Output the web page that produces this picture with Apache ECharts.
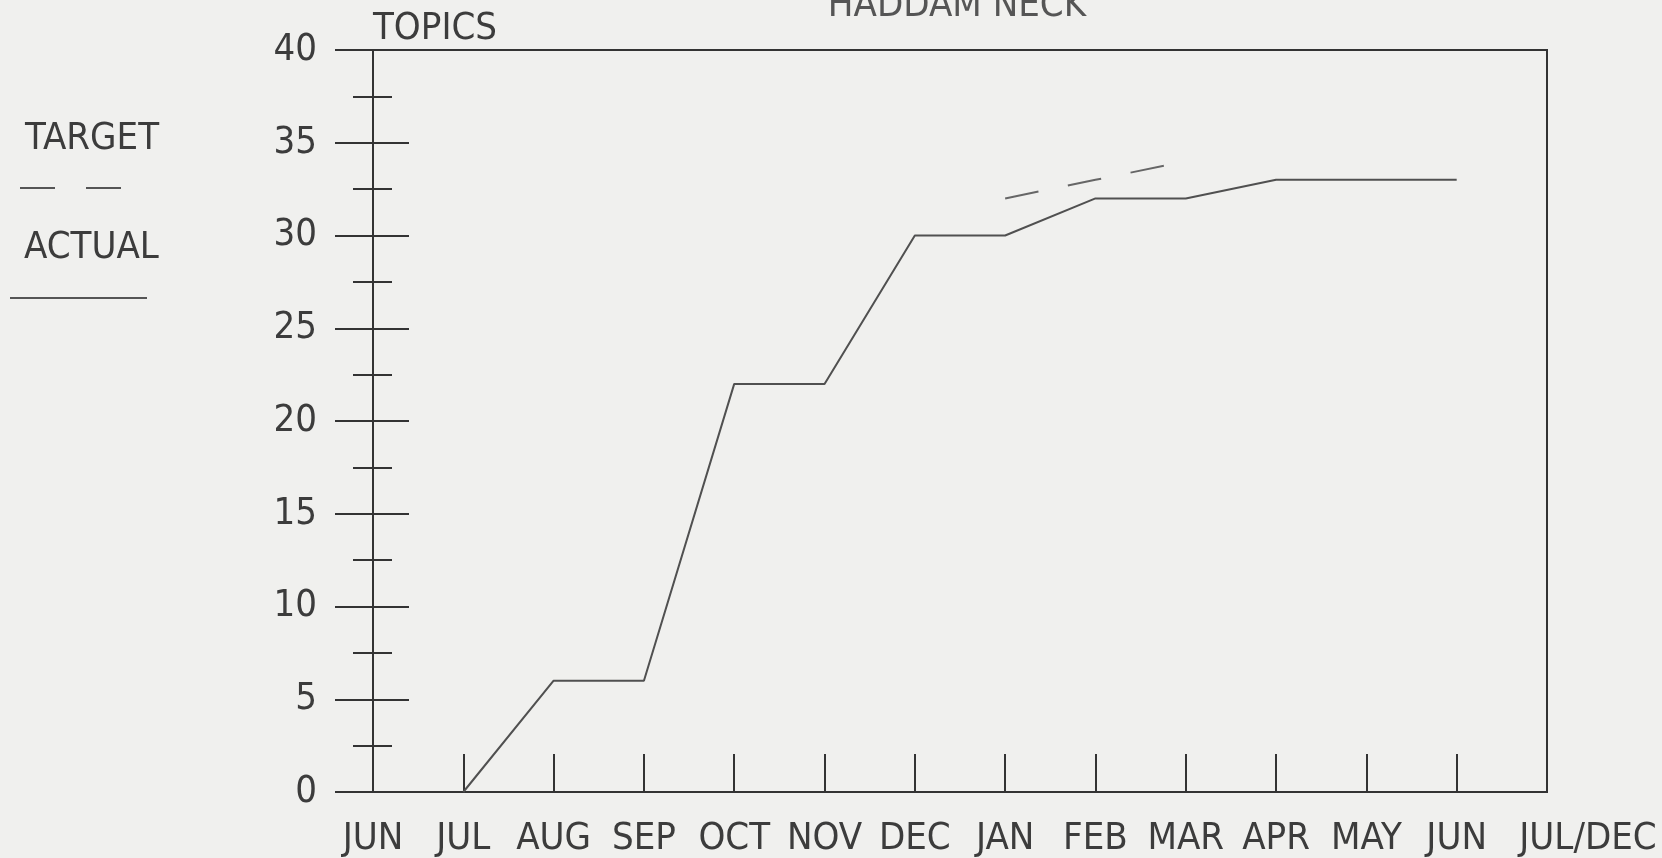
<!DOCTYPE html>
<html>
<head>
<meta charset="utf-8">
<script src="https://cdn.jsdelivr.net/npm/echarts@6/dist/echarts.min.js"></script>
<style>
    html, body { margin: 0; padding: 0; background: #f0f0ee; }
    #chart1 { width: 1662px; height: 858px; }
</style>
</head>
<body>
<div id="chart1"></div>
<script>
var months = ['JUN', 'JUL', 'AUG', 'SEP', 'OCT', 'NOV', 'DEC', 'JAN', 'FEB', 'MAR', 'APR', 'MAY', 'JUN', 'JUL/DEC'];
var actualData = [null, 0, 6, 6, 22, 22, 30, 30, 32, 32, 33, 33, 33, null];
var targetData = [null, null, null, null, null, null, null, 32, 33, 34, null, null, null, null];
var yTicks = [0, 5, 10, 15, 20, 25, 30, 35, 40];

var font = "'Liberation Sans Narrow', 'DejaVu Sans Condensed', 'Liberation Sans', sans-serif";
var ink = '#3c3c3c';
var chart1 = echarts.init(document.getElementById('chart1'));

var option = {
    animation: false,
    backgroundColor: '#f0f0ee',
    title: {
        text: 'HADDAM NECK',
        left: 957,
        top: -13,
        padding: 0,
        textAlign: 'center',
        textStyle: { fontFamily: font, fontSize: 38, fontWeight: 'normal', color: '#555' }
    },
    grid: {
        left: 373, right: 115, top: 50, bottom: 66,
        show: true, borderColor: '#333', borderWidth: 2, backgroundColor: 'transparent'
    },
    xAxis: {
        type: 'category',
        data: months,
        boundaryGap: false,
        axisLine: { lineStyle: { color: '#333', width: 2 } },
        axisTick: { inside: true, length: 38, interval: 0, lineStyle: { color: '#333', width: 2 } },
        axisLabel: {
            interval: 0, margin: 28, color: ink, fontFamily: font, fontSize: 38,
            formatter: function (v) {
                // last label sits to the right of the border
                return v === 'JUL/DEC' ? '{s|' + v + '}' : v;
            },
            rich: { s: { padding: [0, 0, 0, 82], fontFamily: font, fontSize: 38, color: ink } }
        },
        splitLine: { show: false }
    },
    yAxis: [{
        type: 'value',
        min: yTicks[0], max: yTicks[yTicks.length - 1], interval: 5,
        name: 'TOPICS',
        nameLocation: 'end',
        nameGap: 2,
        nameTextStyle: { align: 'left', verticalAlign: 'bottom', fontFamily: font, fontSize: 38, color: ink },
        axisLine: { show: true, lineStyle: { color: '#333', width: 2 } },
        axisTick: { show: true, inside: false, length: 38, lineStyle: { color: '#333', width: 2 } },
        minorTick: { show: true, splitNumber: 2, length: 20, lineStyle: { color: '#333', width: 2 } },
        axisLabel: { margin: 56, color: ink, fontFamily: font, fontSize: 38 },
        splitLine: { show: false },
        minorSplitLine: { show: false }
    }, {
        // second axis only to draw the tick halves on the inside
        type: 'value',
        position: 'left',
        min: yTicks[0], max: yTicks[yTicks.length - 1], interval: 5,
        axisLine: { show: false },
        axisTick: { show: true, inside: true, length: 36, lineStyle: { color: '#333', width: 2 } },
        minorTick: { show: true, splitNumber: 2, length: 19, lineStyle: { color: '#333', width: 2 } },
        axisLabel: { show: false },
        splitLine: { show: false },
        minorSplitLine: { show: false }
    }],
    series: [{
        name: 'ACTUAL',
        type: 'line',
        data: actualData,
        showSymbol: false,
        symbol: 'none',
        lineStyle: { color: '#505050', width: 2 }
    }, {
        name: 'TARGET',
        type: 'line',
        data: targetData,
        showSymbol: false,
        symbol: 'none',
        lineStyle: { color: '#666', width: 2, type: [34, 30] }
    }],
    graphic: [
        { type: 'text', x: 25, y: 139, style: { text: 'TARGET', fill: ink, fontFamily: font, fontSize: 38, verticalAlign: 'middle' } },
        { type: 'line', shape: { x1: 20, y1: 188, x2: 121, y2: 188 }, style: { stroke: '#555', lineWidth: 2, lineDash: [35, 31] } },
        { type: 'text', x: 24, y: 248, style: { text: 'ACTUAL', fill: ink, fontFamily: font, fontSize: 38, verticalAlign: 'middle' } },
        { type: 'line', shape: { x1: 10, y1: 298, x2: 147, y2: 298 }, style: { stroke: '#555', lineWidth: 2 } }
    ]
};
chart1.setOption(option, true);
</script>
</body>
</html>
